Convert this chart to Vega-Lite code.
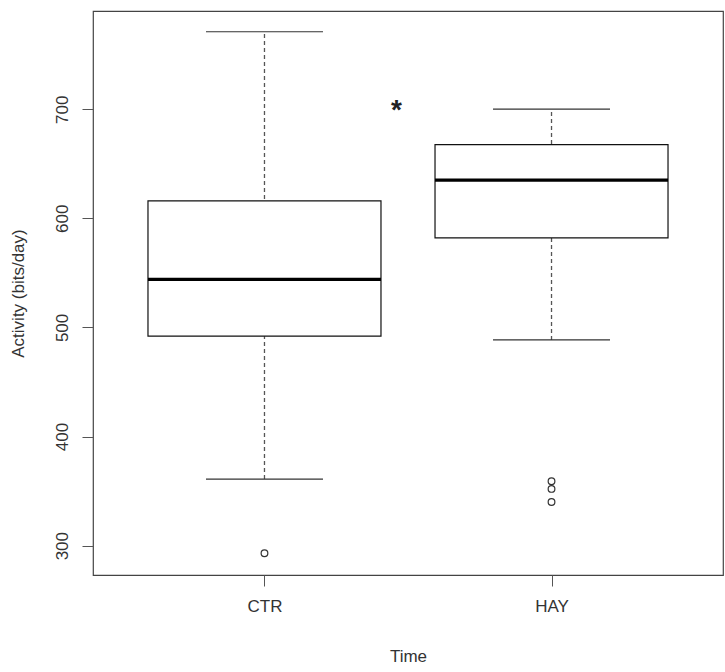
{
  "$schema": "https://vega.github.io/schema/vega-lite/v6.json",
  "width": 630,
  "height": 564,
  "autosize": {"type": "none"},
  "padding": {"left": 93, "top": 11, "right": 2, "bottom": 97},
  "background": "white",
  "config": {
    "font": "Liberation Sans",
    "view": {"stroke": "#444", "strokeWidth": 1.2},
    "axis": {
      "domain": false,
      "grid": false,
      "tickColor": "#555",
      "tickSize": 11,
      "tickWidth": 1,
      "labelFont": "Liberation Sans",
      "labelFontSize": 17,
      "labelColor": "#333",
      "titleFont": "Liberation Sans",
      "titleFontSize": 17,
      "titleFontWeight": "normal",
      "titleColor": "#333"
    }
  },
  "datasets": {
    "boxes": [
      {"Time": "CTR", "pos": 1, "lower": 361, "q1": 492, "median": 544, "q3": 616, "upper": 771},
      {"Time": "HAY", "pos": 2, "lower": 488.5, "q1": 582, "median": 635, "q3": 667.5, "upper": 700}
    ],
    "outliers": [
      {"Time": "CTR", "pos": 1, "Activity": 293},
      {"Time": "HAY", "pos": 2, "Activity": 359},
      {"Time": "HAY", "pos": 2, "Activity": 352},
      {"Time": "HAY", "pos": 2, "Activity": 340}
    ],
    "annotation": [
      {"pos": 1.46, "Activity": 703, "label": "*"}
    ]
  },
  "layer": [
    {
      "data": {"name": "boxes"},
      "mark": {"type": "rule", "color": "#555", "strokeWidth": 1.3, "strokeDash": [4, 3]},
      "encoding": {
        "x": {
          "field": "pos", "type": "quantitative", "title": "Time",
          "scale": {"domain": [0.42, 2.58], "nice": false, "zero": false},
          "axis": {"values": [1, 2], "labelExpr": "datum.value == 1 ? 'CTR' : 'HAY'", "labelPadding": 12, "titlePadding": 34}
        },
        "y": {
          "field": "lower", "type": "quantitative", "title": "Activity (bits/day)",
          "scale": {"domain": [273.1, 790], "nice": false, "zero": false},
          "axis": {"values": [300, 400, 500, 600, 700], "labelAngle": 270, "labelAlign": "center", "labelBaseline": "bottom", "labelPadding": 11, "titlePadding": 26}
        },
        "y2": {"field": "upper"}
      }
    },
    {
      "data": {"name": "boxes"},
      "mark": {"type": "bar", "size": 233, "fill": "white", "stroke": "#111", "strokeWidth": 1.2},
      "encoding": {
        "x": {"field": "pos", "type": "quantitative", "title": "Time"},
        "y": {"field": "q1", "type": "quantitative", "title": "Activity (bits/day)"},
        "y2": {"field": "q3"}
      }
    },
    {
      "data": {"name": "boxes"},
      "mark": {"type": "tick", "orient": "horizontal", "size": 233, "thickness": 3.2, "color": "#000", "opacity": 1},
      "encoding": {
        "x": {"field": "pos", "type": "quantitative", "title": "Time"},
        "y": {"field": "median", "type": "quantitative", "title": "Activity (bits/day)"}
      }
    },
    {
      "data": {"name": "boxes"},
      "mark": {"type": "tick", "orient": "horizontal", "size": 117, "thickness": 1.2, "color": "#333", "opacity": 1},
      "encoding": {
        "x": {"field": "pos", "type": "quantitative", "title": "Time"},
        "y": {"field": "upper", "type": "quantitative", "title": "Activity (bits/day)"}
      }
    },
    {
      "data": {"name": "boxes"},
      "mark": {"type": "tick", "orient": "horizontal", "size": 117, "thickness": 1.2, "color": "#333", "opacity": 1},
      "encoding": {
        "x": {"field": "pos", "type": "quantitative", "title": "Time"},
        "y": {"field": "lower", "type": "quantitative", "title": "Activity (bits/day)"}
      }
    },
    {
      "data": {"name": "outliers"},
      "mark": {"type": "point", "shape": "circle", "filled": false, "size": 45, "stroke": "#333", "strokeWidth": 1.2, "opacity": 1},
      "encoding": {
        "x": {"field": "pos", "type": "quantitative", "title": "Time"},
        "y": {"field": "Activity", "type": "quantitative", "title": "Activity (bits/day)"}
      }
    },
    {
      "data": {"name": "annotation"},
      "mark": {"type": "text", "fontSize": 28, "fontWeight": "bold", "color": "#222", "align": "center", "baseline": "middle", "dy": 5},
      "encoding": {
        "x": {"field": "pos", "type": "quantitative", "title": "Time"},
        "y": {"field": "Activity", "type": "quantitative", "title": "Activity (bits/day)"},
        "text": {"field": "label"}
      }
    }
  ]
}
